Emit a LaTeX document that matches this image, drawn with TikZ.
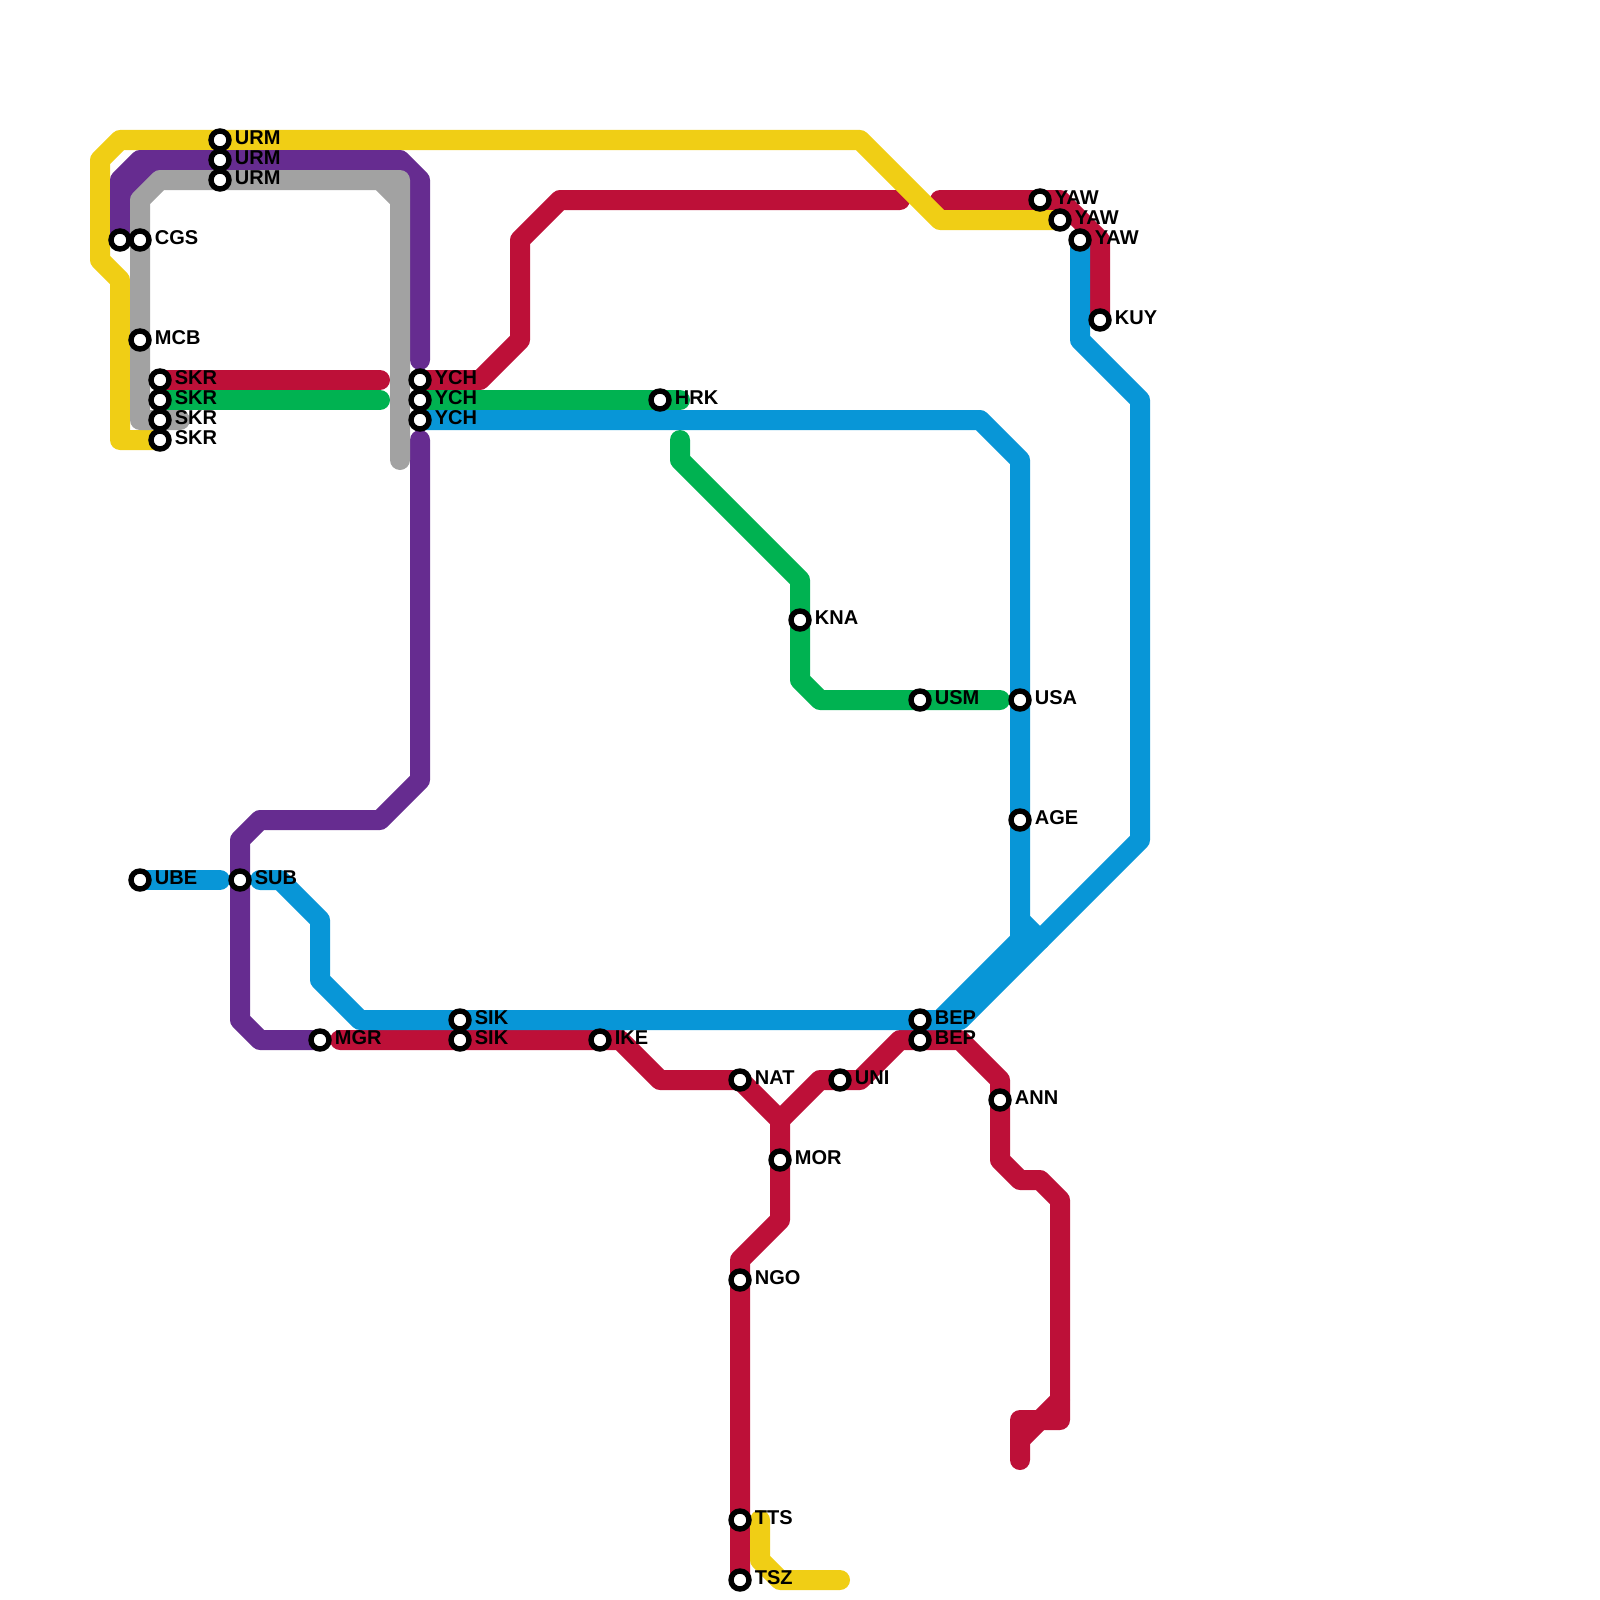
\documentclass[tikz,border=0pt]{standalone}
\usepackage{fontspec}
\setmainfont{Liberation Sans}

\begin{document}
\begin{tikzpicture}[x=10pt, y=-10pt,
    route/.style={line width=10pt, line cap=round, line join=round},
    stopDot/.style={circle, draw=black, fill=white, line width=2.7pt, minimum size=9pt, inner sep=0pt, outer sep=0pt},
    stopName/.style={anchor=west, inner sep=0pt, font=\fontsize{10}{12}\selectfont\bfseries}]
    % Define colours
    \definecolor{yellowColour}{HTML}{F0CE15}
    \definecolor{purpleColour}{HTML}{662C90}
    \definecolor{greyColour}{HTML}{A2A2A2}
    \definecolor{redColour}{HTML}{BD1038}
    \definecolor{greenColour}{HTML}{00B251}
    \definecolor{blueColour}{HTML}{0896D7}

    % Fix the page size
    \useasboundingbox (0,0) rectangle (80,80);

    % Define coordinates for the stops
    \coordinate (urmA) at (11,7);
    \coordinate (urmB) at (11,8);
    \coordinate (urmC) at (11,9);
    \coordinate (cgsA) at (6,12);
    \coordinate (cgsB) at (7,12);
    \coordinate (mcb) at (7,17);
    \coordinate (skrA) at (8,19);
    \coordinate (skrB) at (8,20);
    \coordinate (skrC) at (8,21);
    \coordinate (skrD) at (8,22);
    \coordinate (ychA) at (21,19);
    \coordinate (ychB) at (21,20);
    \coordinate (ychC) at (21,21);
    \coordinate (hrk) at (33,20);
    \coordinate (kna) at (40,31);
    \coordinate (usm) at (46,35);
    \coordinate (usa) at (51,35);
    \coordinate (age) at (51,41);
    \coordinate (yawA) at (52,10);
    \coordinate (yawB) at (53,11);
    \coordinate (yawC) at (54,12);
    \coordinate (kuy) at (55,16);
    \coordinate (ube) at (7,44);
    \coordinate (sub) at (12,44);
    \coordinate (mgr) at (16,52);
    \coordinate (sikA) at (23,51);
    \coordinate (sikB) at (23,52);
    \coordinate (ike) at (30,52);
    \coordinate (nat) at (37,54);
    \coordinate (uni) at (42,54);
    \coordinate (bepA) at (46,51);
    \coordinate (bepB) at (46,52);
    \coordinate (ann) at (50,55);
    \coordinate (mor) at (39,58);
    \coordinate (ngo) at (37,64);
    \coordinate (tts) at (37,76);
    \coordinate (tsz) at (37,79);

    % Define coordinates for the free line ends
    \coordinate (redEndA) at (19,19);
    \coordinate (redEndB) at (45,10);
    \coordinate (redEndC) at (47,10);
    \coordinate (redEndD) at (17,52);
    \coordinate (redEndE) at (51,73);
    \coordinate (greenEndA) at (19,20);
    \coordinate (greenEndB) at (34,20);
    \coordinate (greenEndC) at (34,22);
    \coordinate (greenEndD) at (50,35);
    \coordinate (blueEndA) at (11,44);
    \coordinate (blueEndB) at (13,44);
    \coordinate (purpleEndA) at (21,18);
    \coordinate (purpleEndB) at (21,22);
    \coordinate (greyEndA) at (9,21);
    \coordinate (greyEndB) at (20,23);
    \coordinate (yellowEndA) at (38,76);
    \coordinate (yellowEndB) at (42,79);
    \coordinate (forkRed) at (39,56);

    % Draw the red lines
    \draw[route, redColour] (skrA) -- (redEndA);
    \draw[route, redColour] (ychA) -- (24,19) -- (26,17) -- (26,12) -- (28,10) -- (redEndB);
    \draw[route, redColour] (redEndC) -- (yawA) -- (53,10) -- (55,12) -- (kuy);
    \draw[route, redColour] (redEndD) -- (sikB) -- (ike) -- (31,52) -- (33,54) -- (nat) -- (forkRed) -- (mor) -- (39,61) -- (37,63) -- (ngo) -- (tts) -- (tsz);
    \draw[route, redColour] (forkRed) -- (41,54) -- (uni) -- (43,54) -- (45,52) -- (bepB) -- (48,52) -- (50,54) -- (ann) -- (50,58) -- (51,59) -- (52,59) -- (53,60) -- (53,71) -- (51,71) -- (redEndE);
    \draw[route, redColour] (53,70) -- (51,72);

    % Draw the green lines
    \draw[route, greenColour] (skrB) -- (greenEndA);
    \draw[route, greenColour] (ychB) -- (hrk) -- (greenEndB);
    \draw[route, greenColour] (greenEndC) -- (34,23) -- (40,29) -- (kna) -- (40,34) -- (41,35) -- (usm) -- (greenEndD);

    % Draw the blue lines
    \draw[route, blueColour] (ube) -- (blueEndA);
    \draw[route, blueColour] (ychC) -- (49,21) -- (51,23) -- (usa) -- (age) -- (51,47) -- (47,51) -- (bepA) -- (sikA) -- (18,51) -- (16,49) -- (16,46) -- (14,44) -- (blueEndB);
    \draw[route, blueColour] (yawC) -- (54,17) -- (57,20) -- (57,42) -- (48,51) -- (bepA);
    \draw[route, blueColour] (51,46) -- (52,47);

    % Draw the yellow lines
    \draw[route, yellowColour] (skrD) -- (6,22) -- (6,14) -- (5,13) -- (5,8) -- (6,7) -- (urmA) -- (43,7) -- (47,11) -- (yawB);
    \draw[route, yellowColour] (yellowEndA) -- (38,78) -- (39,79) -- (yellowEndB);

    % Draw the purple lines
    \draw[route, purpleColour] (cgsA) -- (6,9) -- (7,8) -- (urmB) -- (20,8) -- (21,9) -- (purpleEndA);
    \draw[route, purpleColour] (6,11) -- (6,10) -- (8,8);
    \draw[route, purpleColour] (purpleEndB) -- (21,39) -- (19,41) -- (13,41) -- (12,42) -- (sub) -- (12,51) -- (13,52) -- (mgr);

    % Draw the grey line
    \draw[route, greyColour] (greyEndA) -- (7,21) -- (7,10) -- (8,9) -- (urmC) -- (20,9) -- (greyEndB);
    \draw[route, greyColour] (19,9) -- (20,10);

    % Draw the stops and label them
    \node[stopDot] (cgsADot) at (cgsA) {};
    \foreach \stop/\name in {urmA/URM, urmB/URM, urmC/URM, cgsB/CGS, mcb/MCB,
        skrA/SKR, skrB/SKR, skrC/SKR, skrD/SKR, ychA/YCH, ychB/YCH, ychC/YCH,
        hrk/HRK, kna/KNA, usm/USM, usa/USA, age/AGE, yawA/YAW, yawB/YAW, yawC/YAW,
        kuy/KUY, ube/UBE, sub/SUB, mgr/MGR, sikA/SIK, sikB/SIK, ike/IKE, nat/NAT,
        uni/UNI, bepA/BEP, bepB/BEP, ann/ANN, mor/MOR, ngo/NGO, tts/TTS, tsz/TSZ} {
        \node[stopDot] (\stop Dot) at (\stop) {};
        \node[stopName] (\stop Name) at ([xshift=7.25pt,yshift=1pt]\stop) {\name};
    }
\end{tikzpicture}
\end{document}
